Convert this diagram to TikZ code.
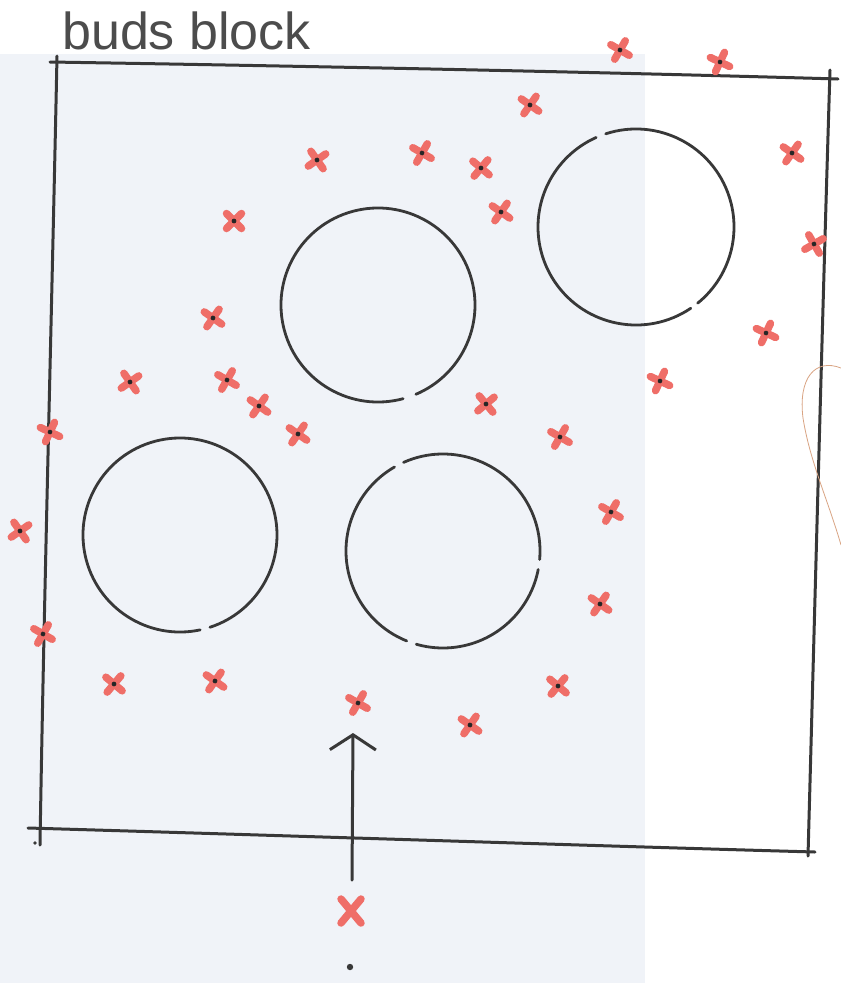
\documentclass[tikz,border=0pt]{standalone}
\usepackage{fontspec}
\setmainfont{Liberation Sans}
\usetikzlibrary{arrows.meta}
\definecolor{paper}{HTML}{F0F3F8}
\definecolor{ink}{HTML}{383838}
\definecolor{xred}{HTML}{EF6E68}
\definecolor{faint}{HTML}{D9A483}
\tikzset{
  frame/.style={draw=ink, line width=3pt, line cap=round},
  ring/.style={draw=ink, line width=2.8pt, line cap=round},
  xstroke/.style={draw=xred, line width=7.5pt, line cap=round},
  xmk/.pic={
    \draw[xstroke] (-7.5,-7.5) -- (7.5,7.5);
    \draw[xstroke] (-7.5,7.5) -- (7.5,-7.5);
    \fill[black!85] (0,0) circle (2.4);
  },
  xbig/.pic={
    \draw[xstroke, line width=7.5pt] (-10,-12) -- (10,12);
    \draw[xstroke, line width=7.5pt] (-10,12) -- (10,-12);
  },
  arrowline/.style={draw=ink, line width=3pt, line cap=round,
    -{Straight Barb[length=15pt,width=46pt,line width=3pt]}}
}
\begin{document}
\begin{tikzpicture}[x=1pt,y=-1pt]
\useasboundingbox (0,0) rectangle (841,983);
\fill[white] (0,0) rectangle (841,983);
\fill[paper] (0,54) rectangle (645,983);

% title
\node[anchor=base west, inner sep=0pt, text=ink!90, font=\fontsize{52}{52}\selectfont] (title) at (62,49) {buds block};

% frame
\draw[frame] (50,62) .. controls (300,66) and (600,72) .. (838,79);
\draw[frame] (57,56) .. controls (52,300) and (44,600) .. (40,845);
\draw[frame] (830,70) .. controls (822,330) and (815,600) .. (808,856);
\draw[frame] (28,828) .. controls (300,836) and (600,846) .. (815,852);
\fill[ink] (35,843) circle (1.8);

% circles with pen gaps
\draw[ring] (378,305) ++(75:97) arc[start angle=75, end angle=427, radius=97];
\draw[ring] (636,227) ++(56:98) arc[start angle=56, end angle=246, radius=98];
\draw[ring] (636,227) ++(252:98) arc[start angle=252, end angle=411, radius=98];
\draw[ring] (180,535) ++(78:97) arc[start angle=78, end angle=432, radius=97];
\draw[ring] (443,551) ++(11:97) arc[start angle=11, end angle=106, radius=97];
\draw[ring] (443,551) ++(112:97) arc[start angle=112, end angle=240, radius=97];
\draw[ring] (443,551) ++(246:97) arc[start angle=246, end angle=365, radius=97];

% faint curve at right edge
\draw[faint, line width=0.8pt] (841,368) .. controls (815,358) and (798,378) .. (803,418) .. controls (810,462) and (828,500) .. (841,545);

% marks
\foreach \px/\py/\r in {
  620/50/15, 720/62/20, 530/105/10, 317/160/-10, 422/153/15, 481/168/5,
  792/153/10, 234/221/0, 501/212/10, 814/244/-15, 213/318/10, 766/333/20,
  130/382/-10, 227/380/15, 660/381/20, 259/406/10, 486/404/-5, 298/434/10,
  560/437/15, 50/432/20, 20/531/-10, 611/512/15, 43/634/15, 600/604/10,
  114/684/5, 215/681/10, 358/703/15, 558/686/5, 470/725/10}{
  \pic[rotate=\r] at (\px,\py) {xmk};
}
\pic at (351,911) {xbig};
\fill[ink] (350,967) circle (3.2);

% arrow
\coordinate (src) at (352,880);
\coordinate (dst) at (353,733);
\draw[arrowline] (src) -- (dst);
\end{tikzpicture}
\end{document}
